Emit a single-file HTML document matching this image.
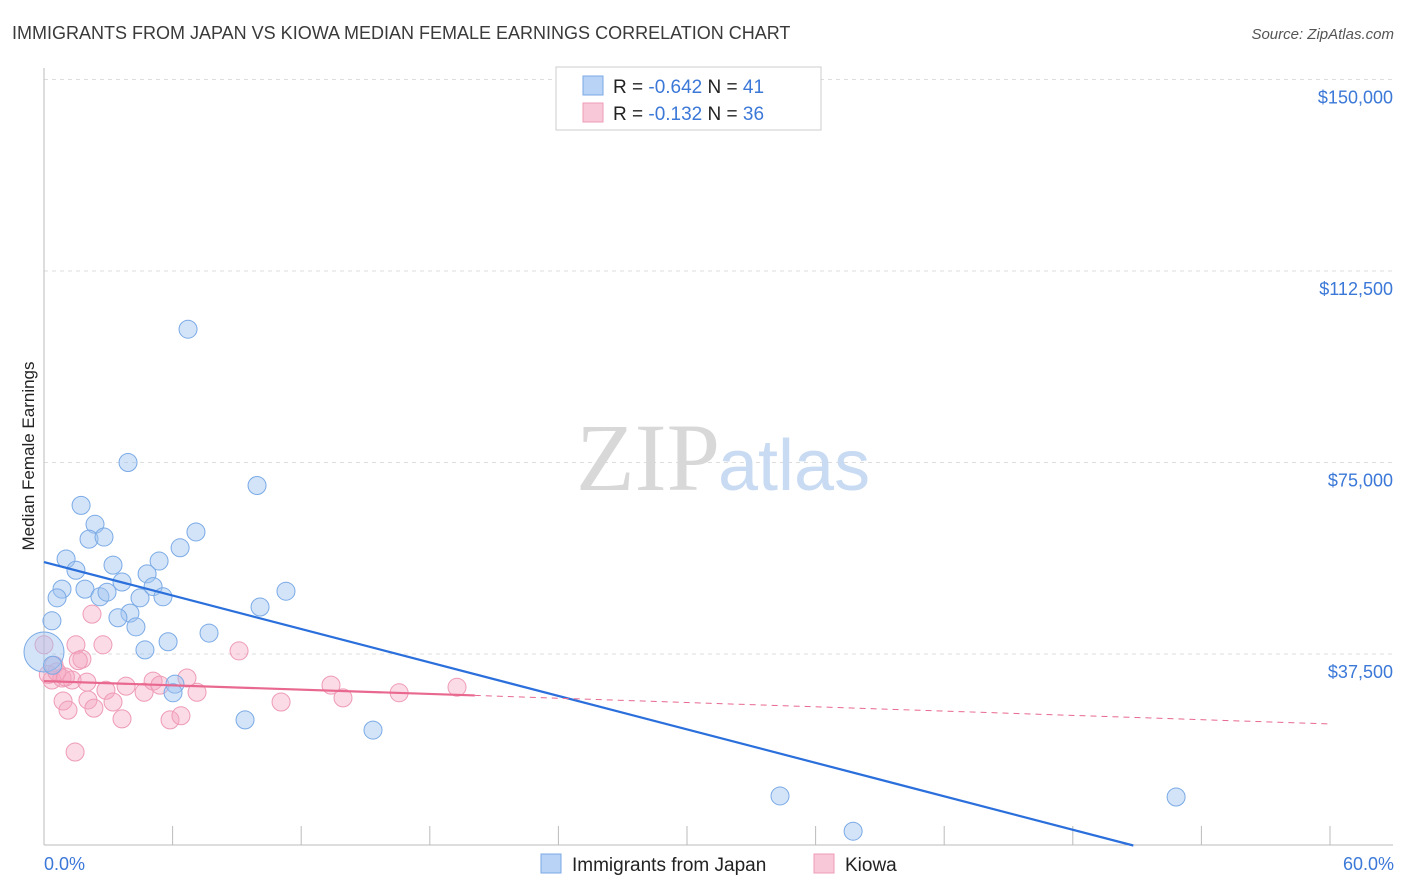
<!DOCTYPE html>
<html><head><meta charset="utf-8"><style>
body{margin:0;background:#fff;font-family:"Liberation Sans",sans-serif}
svg{display:block}
</style></head><body>
<svg width="1406" height="892" viewBox="0 0 1406 892">
<text x="12" y="39" font-size="18" fill="#3a3a3a">IMMIGRANTS FROM JAPAN VS KIOWA MEDIAN FEMALE EARNINGS CORRELATION CHART</text>
<text x="1394" y="39" font-size="15" font-style="italic" fill="#555" text-anchor="end">Source: ZipAtlas.com</text>
<g id="grid"></g>
<text x="720" y="490" font-size="96" font-family="Liberation Serif,serif" fill="#d8d8d8" text-anchor="end">ZIP</text>
<text x="718" y="490" font-size="72" fill="#c8dbf2">atlas</text>
<line x1="44" y1="68" x2="44" y2="845" stroke="#bbb"/>
<line x1="44" y1="845" x2="1393" y2="845" stroke="#bbb"/>
<g id="xticks"></g>
<g id="pts"></g>
<g id="lines"></g>
<text transform="translate(34,456) rotate(-90)" font-size="17" fill="#222" text-anchor="middle">Median Female Earnings</text>
<text x="44" y="870" font-size="18" fill="#3b78d8">0.0%</text>
<text x="1394" y="870" font-size="18" fill="#3b78d8" text-anchor="end">60.0%</text>
<g>
<rect x="556" y="67" width="265" height="63" fill="#fff" stroke="#ccc"/>
<rect x="583" y="76" width="20" height="19" fill="#b8d3f5" stroke="#7aaae6"/>
<rect x="583" y="103" width="20" height="19" fill="#f9c8d8" stroke="#ee9bb5"/>
<text x="613" y="93" font-size="19" fill="#222">R = <tspan fill="#3b78d8">-0.642</tspan>   N = <tspan fill="#3b78d8">41</tspan></text>
<text x="613" y="120" font-size="19" fill="#222">R =  <tspan fill="#3b78d8">-0.132</tspan>   N = <tspan fill="#3b78d8">36</tspan></text>
</g>
<g>
<rect x="541" y="854" width="20" height="19" fill="#b8d3f5" stroke="#7aaae6"/>
<text x="572" y="871" font-size="19" fill="#222">Immigrants from Japan</text>
<rect x="814" y="854" width="20" height="19" fill="#f9c8d8" stroke="#ee9bb5"/>
<text x="845" y="871" font-size="19" fill="#222">Kiowa</text>
</g>
</svg>
<script>
const yTicks=[37500,75000,112500,150000];
const yTickLabels=["$37,500","$75,000","$112,500","$150,000"];
const xTicks=[0,6,12,18,24,30,36,42,48,54,60];
const japanX=[6.72,3.92,9.94,1.73,2.38,2.10,2.80,7.09,6.35,1.03,5.37,1.49,3.22,4.81,3.64,0.84,1.91,0.61,2.61,4.48,5.09,2.94,5.55,4.01,3.45,10.08,11.29,0.37,4.29,7.70,5.79,4.71,0,6.11,6.02,9.38,15.35,34.34,52.82,37.75,0.4];
const japanY=[101100,75000,70500,66600,62900,60000,60400,61400,58300,56100,55700,53900,54900,53200,51600,50200,50200,48500,48700,48500,50700,49600,48700,45500,44600,46700,49800,44000,42800,41600,39900,38300,37900,31600,29900,24600,22600,9700,9500,2800,35300];
const kiowaX=[2.24,1.49,2.75,1.77,9.10,0.47,0,0.37,0.84,1.31,0.89,1.12,2.05,2.33,2.89,3.22,3.83,4.67,5.09,5.41,6.67,7.14,3.64,5.88,6.39,11.06,13.39,13.95,16.57,19.27,1.45,1.6,0.2,0.6,2.0,1.0];
const kiowaY=[45300,39300,39300,36500,38100,35300,39300,32400,32800,32400,28300,26500,28500,26900,30400,28100,31200,30000,32200,31400,32800,30000,24800,24600,25400,28100,31400,28900,29900,31000,18300,36200,33500,34000,32000,33000];
const japanTrend=[55500,-0.01092*1e5/1]; // intercept, slope per %
const japanIntercept=55500, japanSlope=-1092;
const kiowaIntercept=32200, kiowaSlope=-140;
const X=v=>44+v/60*1286;
const Y=v=>845.5-v/37500*191.5;
const NS="http://www.w3.org/2000/svg";
function mk(t,a,p){const e=document.createElementNS(NS,t);for(const k in a)e.setAttribute(k,a[k]);p.appendChild(e);return e;}
const grid=document.getElementById('grid');
yTicks.forEach((t,i)=>{
 const l=mk('line',{x1:44,x2:1393,y1:Y(t),y2:Y(t),stroke:'#ddd','stroke-dasharray':'4,4'},grid);
 
 
 const tx=mk('text',{x:1393,y:Y(t)+24,'font-size':18,fill:'#3b78d8','text-anchor':'end'},grid);
 tx.textContent=yTickLabels[i];
 
 
});
const xt=document.getElementById('xticks');
xTicks.forEach(t=>{
 const l=mk('line',{x1:X(t),x2:X(t),y1:826,y2:845,stroke:'#bbb'},xt);
 
 
});
const pts=document.getElementById('pts');
kiowaX.forEach((v,i)=>{
 const c=mk('circle',{cx:X(v),cy:Y(kiowaY[i]),r:9,fill:'rgba(245,165,192,0.4)',stroke:'#ee9bb5','stroke-width':1},pts);
 
 
});
japanX.forEach((v,i)=>{
 const c=mk('circle',{cx:X(v),cy:Y(japanY[i]),r:(v===0?20:9),fill:'rgba(160,196,240,0.45)',stroke:'#7aaae6','stroke-width':1},pts);
 
 
});
const ln=document.getElementById('lines');
const jEnd=-japanIntercept/japanSlope;
const jl=mk('line',{x1:X(0),y1:Y(japanIntercept),x2:X(jEnd),y2:Y(0),stroke:'#2a6fdb','stroke-width':2.2},ln);


const kl=mk('line',{x1:X(0),y1:Y(kiowaIntercept),x2:X(20.1),y2:Y(kiowaIntercept+kiowaSlope*20.1),stroke:'#e8688f','stroke-width':2.2},ln);


const kd=mk('line',{x1:X(20.1),y1:Y(kiowaIntercept+kiowaSlope*20.1),x2:X(60),y2:Y(kiowaIntercept+kiowaSlope*60),stroke:'#e8688f','stroke-width':1,'stroke-dasharray':'6,5'},ln);


</script>
</body></html>
